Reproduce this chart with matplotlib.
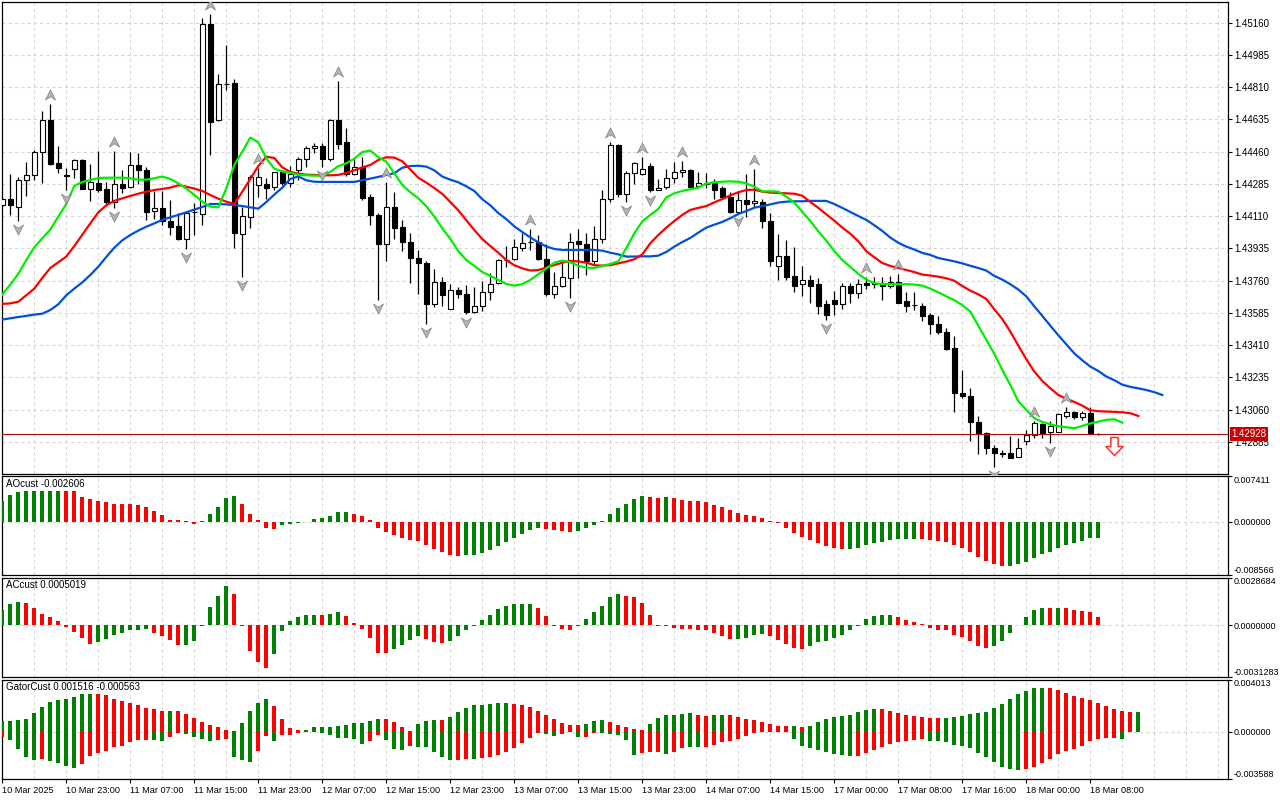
import numpy as np
import matplotlib
matplotlib.use("Agg")
import matplotlib.pyplot as plt
from matplotlib.path import Path
import matplotlib.transforms as mtransforms

plt.rcParams['font.family'] = ['Liberation Sans', 'DejaVu Sans']
FS = 7.0        # price labels, titles
FS_IND = 6.5    # indicator scale labels
FS_TIME = 6.6   # time axis labels

# ---------------- data (hourly bars, 10 Mar 15:00 ... 18 Mar 09:00) ----------------
opens = [1.44173, 1.44205, 1.44162, 1.44305, 1.44332, 1.44457, 1.44630, 1.44397, 1.44332, 1.44368,
         1.44413, 1.44260, 1.44290, 1.44258, 1.44187, 1.44285, 1.44267, 1.44388, 1.44359, 1.44136,
         1.44153, 1.44084, 1.44055, 1.43988, 1.44131, 1.44122, 1.45151, 1.44630, 1.44829, 1.44831,
         1.44012, 1.44108, 1.44278, 1.44285, 1.44267, 1.44349, 1.44288, 1.44359, 1.44419, 1.44478,
         1.44489, 1.44419, 1.44630, 1.44511, 1.44339, 1.44379, 1.44212, 1.44115, 1.43958, 1.44158,
         1.44050, 1.43968, 1.43881, 1.43854, 1.43632, 1.43755, 1.43607, 1.43710, 1.43686, 1.43589,
         1.43623, 1.43697, 1.43746, 1.43874, 1.43876, 1.43939, 1.43968, 1.43968, 1.43876, 1.43688,
         1.43733, 1.43777, 1.43976, 1.43958, 1.43867, 1.43985, 1.44202, 1.44495, 1.44229, 1.44343,
         1.44337, 1.44382, 1.44254, 1.44267, 1.44316, 1.44350, 1.44359, 1.44274, 1.44288, 1.44292,
         1.44261, 1.44212, 1.44131, 1.44196, 1.44180, 1.44185, 1.44084, 1.43841, 1.43892, 1.43785,
         1.43741, 1.43762, 1.43741, 1.43634, 1.43655, 1.43632, 1.43733, 1.43695, 1.43750, 1.43746,
         1.43741, 1.43730, 1.43755, 1.43650, 1.43628, 1.43623, 1.43574, 1.43525, 1.43480, 1.43393,
         1.43149, 1.43137, 1.42991, 1.42936, 1.42851, 1.42824, 1.42827, 1.42805, 1.42892, 1.42923,
         1.42981, 1.42941, 1.42941, 1.43026, 1.43050, 1.43019, 1.43044, 1.42930]
highs = [1.44216, 1.44339, 1.44325, 1.44402, 1.44469, 1.44681, 1.44717, 1.44491, 1.44373, 1.44419,
         1.44419, 1.44393, 1.44464, 1.44297, 1.44464, 1.44361, 1.44457, 1.44453, 1.44377, 1.44249,
         1.44249, 1.44198, 1.44126, 1.44131, 1.44180, 1.45184, 1.45205, 1.44882, 1.45039, 1.44854,
         1.44158, 1.44334, 1.44370, 1.44316, 1.44352, 1.44361, 1.44384, 1.44433, 1.44493, 1.44505,
         1.44505, 1.44636, 1.44844, 1.44589, 1.44433, 1.44433, 1.44231, 1.44126, 1.44294, 1.44240,
         1.44090, 1.44017, 1.43927, 1.43867, 1.43822, 1.43782, 1.43741, 1.43724, 1.43737, 1.43724,
         1.43759, 1.43804, 1.43876, 1.43948, 1.43987, 1.44021, 1.44039, 1.44008, 1.43958, 1.43809,
         1.43854, 1.44021, 1.44039, 1.44021, 1.44059, 1.44252, 1.44515, 1.44500, 1.44355, 1.44404,
         1.44433, 1.44397, 1.44310, 1.44364, 1.44402, 1.44410, 1.44364, 1.44352, 1.44343, 1.44312,
         1.44276, 1.44243, 1.44243, 1.44337, 1.44366, 1.44203, 1.44126, 1.44012, 1.43981, 1.43941,
         1.43841, 1.43789, 1.43773, 1.43655, 1.43704, 1.43746, 1.43746, 1.43768, 1.43782, 1.43779,
         1.43782, 1.43788, 1.43797, 1.43701, 1.43701, 1.43637, 1.43583, 1.43571, 1.43505, 1.43460,
         1.43276, 1.43180, 1.43026, 1.42938, 1.42869, 1.42839, 1.42918, 1.42905, 1.42950, 1.43001,
         1.42987, 1.43001, 1.43044, 1.43073, 1.43055, 1.43055, 1.43073, 1.42933]
lows = [1.44162, 1.44117, 1.44086, 1.44220, 1.44306, 1.44292, 1.44388, 1.44346, 1.44252, 1.44316,
        1.44256, 1.44194, 1.44243, 1.44176, 1.44153, 1.44238, 1.44261, 1.44285, 1.44090, 1.44094,
        1.44062, 1.44008, 1.43981, 1.43930, 1.44006, 1.44062, 1.44444, 1.44628, 1.44795, 1.43939,
        1.43782, 1.44048, 1.44216, 1.44203, 1.44252, 1.44279, 1.44270, 1.44305, 1.44379, 1.44455,
        1.44379, 1.44411, 1.44476, 1.44329, 1.44334, 1.44198, 1.44062, 1.43655, 1.43869, 1.43988,
        1.43923, 1.43750, 1.43686, 1.43525, 1.43619, 1.43625, 1.43605, 1.43668, 1.43578, 1.43587,
        1.43596, 1.43655, 1.43742, 1.43836, 1.43872, 1.43923, 1.43927, 1.43872, 1.43677, 1.43664,
        1.43724, 1.43664, 1.43777, 1.43791, 1.43845, 1.43963, 1.44185, 1.44216, 1.44185, 1.44283,
        1.44334, 1.44243, 1.44252, 1.44256, 1.44292, 1.44325, 1.44265, 1.44267, 1.44261, 1.44202,
        1.44203, 1.44126, 1.44126, 1.44108, 1.44162, 1.44048, 1.43841, 1.43764, 1.43764, 1.43696,
        1.43679, 1.43641, 1.43578, 1.43547, 1.43572, 1.43605, 1.43641, 1.43664, 1.43715, 1.43719,
        1.43655, 1.43719, 1.43637, 1.43592, 1.43601, 1.43543, 1.43470, 1.43470, 1.43384, 1.43050,
        1.43126, 1.42892, 1.42820, 1.42820, 1.42751, 1.42805, 1.42797, 1.42804, 1.42869, 1.42905,
        1.42905, 1.42881, 1.42938, 1.43017, 1.43010, 1.43005, 1.42927, 1.42925]
closes = [1.44205, 1.44169, 1.44305, 1.44332, 1.44457, 1.44630, 1.44393, 1.44373, 1.44330, 1.44413,
          1.44260, 1.44294, 1.44254, 1.44187, 1.44283, 1.44265, 1.44388, 1.44359, 1.44131, 1.44153,
          1.44086, 1.44053, 1.43988, 1.44126, 1.44133, 1.45151, 1.44623, 1.44826, 1.44827, 1.44017,
          1.44113, 1.44323, 1.44323, 1.44265, 1.44349, 1.44288, 1.44337, 1.44419, 1.44478, 1.44489,
          1.44419, 1.44630, 1.44502, 1.44339, 1.44379, 1.44211, 1.44115, 1.43961, 1.44158, 1.44048,
          1.43968, 1.43881, 1.43854, 1.43632, 1.43755, 1.43683, 1.43710, 1.43686, 1.43589, 1.43623,
          1.43697, 1.43744, 1.43871, 1.43872, 1.43941, 1.43963, 1.43970, 1.43876, 1.43688, 1.43733,
          1.43780, 1.43972, 1.43958, 1.43869, 1.43985, 1.44202, 1.44495, 1.44229, 1.44343, 1.44400,
          1.44364, 1.44252, 1.44265, 1.44316, 1.44349, 1.44359, 1.44270, 1.44288, 1.44287, 1.44252,
          1.44216, 1.44131, 1.44196, 1.44174, 1.44193, 1.44082, 1.43869, 1.43892, 1.43782, 1.43733,
          1.43762, 1.43733, 1.43625, 1.43572, 1.43632, 1.43733, 1.43695, 1.43741, 1.43737, 1.43744,
          1.43730, 1.43755, 1.43641, 1.43625, 1.43627, 1.43571, 1.43524, 1.43480, 1.43390, 1.43149,
          1.43135, 1.42991, 1.42932, 1.42851, 1.42824, 1.42822, 1.42800, 1.42851, 1.42923, 1.42986,
          1.42932, 1.42972, 1.43035, 1.43050, 1.43019, 1.43044, 1.42932, 1.42928]

# Alligator (lips green, teeth red, jaw blue) - already shifted forward
lips = [1.43684, 1.43739, 1.43797, 1.43872, 1.43941, 1.43990, 1.44037, 1.44108, 1.44176, 1.44274,
        1.44296, 1.44306, 1.44317, 1.44319, 1.44319, 1.44319, 1.44316, 1.44308, 1.44308, 1.44316,
        1.44325, 1.44312, 1.44288, 1.44260, 1.44225, 1.44189, 1.44162, 1.44158, 1.44261, 1.44388,
        1.44460, 1.44536, 1.44511, 1.44424, 1.44368, 1.44353, 1.44345, 1.44335, 1.44332, 1.44330,
        1.44330, 1.44350, 1.44382, 1.44397, 1.44422, 1.44458, 1.44466, 1.44430, 1.44406, 1.44343,
        1.44279, 1.44240, 1.44207, 1.44164, 1.44108, 1.44044, 1.43987, 1.43921, 1.43872, 1.43840,
        1.43807, 1.43786, 1.43764, 1.43742, 1.43733, 1.43741, 1.43764, 1.43795, 1.43826, 1.43858,
        1.43869, 1.43860, 1.43841, 1.43831, 1.43829, 1.43840, 1.43851, 1.43865, 1.43936, 1.44017,
        1.44082, 1.44117, 1.44149, 1.44212, 1.44234, 1.44247, 1.44256, 1.44265, 1.44287, 1.44294,
        1.44297, 1.44299, 1.44297, 1.44288, 1.44270, 1.44245, 1.44245, 1.44243, 1.44216, 1.44184,
        1.44133, 1.44084, 1.44028, 1.43977, 1.43921, 1.43872, 1.43835, 1.43797, 1.43766, 1.43746,
        1.43742, 1.43742, 1.43741, 1.43741, 1.43739, 1.43733, 1.43717, 1.43697, 1.43675, 1.43654,
        1.43627, 1.43592, 1.43516, 1.43439, 1.43363, 1.43276, 1.43194, 1.43106, 1.43059, 1.43014,
        1.42994, 1.42981, 1.42970, 1.42965, 1.42959, 1.42972, 1.42986, 1.42995, 1.43005, 1.43008,
        1.42990]
teeth = [1.43634, 1.43637, 1.43646, 1.43681, 1.43717, 1.43775, 1.43829, 1.43860, 1.43891, 1.43948,
         1.44010, 1.44071, 1.44131, 1.44169, 1.44193, 1.44207, 1.44220, 1.44232, 1.44243, 1.44252,
         1.44258, 1.44265, 1.44278, 1.44270, 1.44260, 1.44247, 1.44225, 1.44205, 1.44189, 1.44176,
         1.44243, 1.44312, 1.44382, 1.44433, 1.44426, 1.44375, 1.44350, 1.44341, 1.44335, 1.44334,
         1.44332, 1.44332, 1.44334, 1.44345, 1.44359, 1.44375, 1.44388, 1.44415, 1.44430, 1.44428,
         1.44408, 1.44363, 1.44319, 1.44292, 1.44263, 1.44231, 1.44187, 1.44142, 1.44088, 1.44035,
         1.43986, 1.43948, 1.43912, 1.43872, 1.43844, 1.43827, 1.43815, 1.43818, 1.43831, 1.43845,
         1.43858, 1.43867, 1.43865, 1.43858, 1.43844, 1.43842, 1.43845, 1.43854, 1.43864, 1.43876,
         1.43903, 1.43963, 1.44008, 1.44048, 1.44084, 1.44117, 1.44144, 1.44155, 1.44165, 1.44185,
         1.44203, 1.44223, 1.44240, 1.44252, 1.44254, 1.44243, 1.44238, 1.44236, 1.44234, 1.44232,
         1.44221, 1.44187, 1.44155, 1.44120, 1.44086, 1.44048, 1.44015, 1.43974, 1.43920, 1.43887,
         1.43856, 1.43840, 1.43829, 1.43818, 1.43807, 1.43793, 1.43788, 1.43782, 1.43773, 1.43760,
         1.43731, 1.43706, 1.43686, 1.43661, 1.43605, 1.43552, 1.43484, 1.43408, 1.43334, 1.43267,
         1.43216, 1.43176, 1.43140, 1.43119, 1.43102, 1.43082, 1.43057, 1.43052, 1.43050, 1.43048,
         1.43046, 1.43041, 1.43026]
jaw = [1.43549, 1.43556, 1.43563, 1.43569, 1.43576, 1.43581, 1.43601, 1.43632, 1.43681, 1.43717,
       1.43751, 1.43791, 1.43836, 1.43889, 1.43939, 1.43979, 1.44008, 1.44032, 1.44053, 1.44071,
       1.44090, 1.44104, 1.44117, 1.44131, 1.44146, 1.44160, 1.44176, 1.44176, 1.44174, 1.44171,
       1.44165, 1.44158, 1.44151, 1.44187, 1.44227, 1.44265, 1.44312, 1.44326, 1.44305, 1.44297,
       1.44296, 1.44296, 1.44296, 1.44296, 1.44296, 1.44305, 1.44314, 1.44323, 1.44334, 1.44343,
       1.44373, 1.44382, 1.44384, 1.44379, 1.44359, 1.44325, 1.44308, 1.44294, 1.44272, 1.44247,
       1.44202, 1.44169, 1.44127, 1.44094, 1.44055, 1.44024, 1.43995, 1.43968, 1.43946, 1.43932,
       1.43927, 1.43927, 1.43927, 1.43927, 1.43927, 1.43923, 1.43912, 1.43903, 1.43891, 1.43891,
       1.43892, 1.43892, 1.43896, 1.43916, 1.43945, 1.43970, 1.43992, 1.44021, 1.44048, 1.44064,
       1.44079, 1.44099, 1.44122, 1.44138, 1.44156, 1.44165, 1.44174, 1.44184, 1.44189, 1.44191,
       1.44191, 1.44193, 1.44193, 1.44193, 1.44176, 1.44155, 1.44133, 1.44111, 1.44090, 1.44061,
       1.44030, 1.43994, 1.43966, 1.43945, 1.43929, 1.43911, 1.43900, 1.43883, 1.43874, 1.43865,
       1.43854, 1.43841, 1.43829, 1.43815, 1.43786, 1.43766, 1.43741, 1.43712, 1.43675, 1.43621,
       1.43569, 1.43516, 1.43464, 1.43415, 1.43366, 1.43328, 1.43294, 1.43270, 1.43240, 1.43220,
       1.43196, 1.43184, 1.43176, 1.43167, 1.43155, 1.43140]

fractal_up_bars = [6, 14, 26, 32, 42, 48, 66, 76, 80, 85, 94, 108, 112, 129, 133]
fractal_down_bars = [2, 8, 14, 23, 30, 40, 47, 53, 58, 71, 78, 81, 92, 103, 124, 131]
signal_bar = 139
signal_price = 1.42863

ao = [0.003321, 0.004232, 0.004821, 0.00487, 0.00490, 0.00492, 0.00494, 0.00497, 0.00495, 0.00490,
      0.004018, 0.003696, 0.003375, 0.003214, 0.002893, 0.002850, 0.002786, 0.002625, 0.002357, 0.001714,
      0.001125, 0.000321, 0.000180, 0.000040, -0.000429, 0.000107, 0.001286, 0.002411, 0.003857, 0.004178,
      0.002893, 0.001286, 0.000321, -0.001071, -0.001232, -0.000589, -0.000429, -0.000268, -0.000107, 0.000429,
      0.000643, 0.000964, 0.001554, 0.001580, 0.001286, 0.000964, 0.000321, -0.001071, -0.001768, -0.002196,
      -0.002679, -0.003000, -0.003214, -0.003803, -0.004446, -0.004982, -0.005411, -0.005571, -0.005411, -0.005380,
      -0.005089, -0.004661, -0.003964, -0.003375, -0.002679, -0.002036, -0.001393, -0.001071, -0.001232, -0.001393,
      -0.001607, -0.001768, -0.001607, -0.001071, -0.000589, 0.000107, 0.001286, 0.002250, 0.002893, 0.003696,
      0.004178, 0.004018, 0.003857, 0.003880, 0.003850, 0.003536, 0.003375, 0.003350, 0.003214, 0.002732,
      0.002411, 0.001929, 0.001446, 0.001125, 0.000964, 0.000643, 0.000161, -0.000214, -0.001018, -0.001875,
      -0.002518, -0.003000, -0.003482, -0.003964, -0.004286, -0.004446, -0.004420, -0.004286, -0.003803, -0.003482,
      -0.003321, -0.003000, -0.002839, -0.002820, -0.002800, -0.002830, -0.003000, -0.003161, -0.003321, -0.003803,
      -0.004286, -0.004928, -0.005732, -0.006375, -0.006857, -0.007178, -0.007150, -0.006857, -0.006536, -0.005893,
      -0.005250, -0.004928, -0.004286, -0.003803, -0.003482, -0.003161, -0.002679, -0.002606]
ao_colors = ("gggggggg" "rrrrrrrrrrrrrrrrr" "ggggg" "rrrrr" "ggggggggg" "rrrrrrrrrrrrrr"
             "gggggggggg" "rrrr" "ggggggggg" "rrg" "rrrrrrrrrrrrrrrrrrrrrr" "ggggggggg"
             "rrrrrrrrrrr" "gggggggggggg")

ac = [0.000922, 0.001242, 0.001383, 0.001323, 0.001022, 0.000661, 0.000481, 0.000240, -0.000120, -0.000421,
      -0.000782, -0.001142, -0.001022, -0.000822, -0.000601, -0.000461, -0.000301, -0.000290, -0.000220, -0.000461,
      -0.000661, -0.000882, -0.001202, -0.001190, -0.000962, -0.000030, 0.001082, 0.001743, 0.002345, 0.001864,
      -0.000040, -0.001563, -0.002224, -0.002585, -0.001743, -0.000341, 0.000240, 0.000481, 0.000601, 0.000620,
      0.000600, 0.000661, 0.000802, 0.000541, 0.000120, -0.000220, -0.000782, -0.001683, -0.001700, -0.001423,
      -0.001202, -0.000882, -0.000661, -0.000822, -0.001022, -0.001082, -0.000962, -0.000661, -0.000281, -0.000040,
      0.000301, 0.000601, 0.000962, 0.001142, 0.001263, 0.001270, 0.001280, 0.001022, 0.000541, -0.000040,
      -0.000220, -0.000281, -0.000030, 0.000361, 0.000782, 0.001142, 0.001683, 0.001864, 0.001743, 0.001683,
      0.001323, 0.000601, -0.000040, -0.000060, -0.000160, -0.000220, -0.000230, -0.000281, -0.000290, -0.000461,
      -0.000661, -0.000840, -0.000822, -0.000762, -0.000601, -0.000541, -0.000661, -0.000882, -0.001142, -0.001363,
      -0.001423, -0.001263, -0.001022, -0.000962, -0.000762, -0.000601, -0.000281, -0.000040, 0.000361, 0.000541,
      0.000601, 0.000620, 0.000481, 0.000301, 0.000180, 0.000060, -0.000160, -0.000281, -0.000300, -0.000601,
      -0.000721, -0.000962, -0.001263, -0.001363, -0.001263, -0.000962, -0.000481, -0.000020, 0.000481, 0.000902,
      0.001022, 0.001010, 0.001030, 0.001015, 0.000902, 0.000842, 0.000782, 0.0005019]
ac_colors = ("ggg" "rrrrrrrrr" "ggggggg" "rrrr" "gggggg" "rrrrr" "gggggg" "r" "gg" "rrrrrr"
             "gggg" "rrr" "ggggggggggg" "rrrrr" "gggggg" "rrrrrrrrrrrrrr" "gggg" "rrrrr"
             "ggggggggggg" "rrrrrrrrrrrr" "ggggggg" "r" "g" "rrrrr")

gator_up = [0.000826, 0.000830, 0.000903, 0.000954, 0.001464, 0.001897, 0.002280, 0.002433, 0.002509, 0.002662,
            0.002892, 0.002900, 0.002895, 0.002815, 0.002509, 0.002356, 0.002203, 0.002050, 0.001821, 0.001744,
            0.001591, 0.001600, 0.001590, 0.001362, 0.001056, 0.000775, 0.000520, 0.000367, 0.000163, 0.000061,
            0.000673, 0.001591, 0.002203, 0.002509, 0.001974, 0.000979, 0.000291, 0.000163, 0.000180, 0.000367,
            0.000370, 0.000375, 0.000444, 0.000520, 0.000673, 0.000680, 0.000826, 0.000979, 0.000970, 0.000750,
            0.000367, 0.000061, 0.000597, 0.000826, 0.000903, 0.000895, 0.001132, 0.001515, 0.001821, 0.002050,
            0.002060, 0.002127, 0.002203, 0.002210, 0.002127, 0.002050, 0.001897, 0.001591, 0.001285, 0.000979,
            0.000673, 0.000520, 0.000515, 0.000597, 0.000826, 0.000903, 0.000750, 0.000520, 0.000367, 0.000214,
            0.000112, 0.000597, 0.001056, 0.001285, 0.001290, 0.001362, 0.001438, 0.001285, 0.001209, 0.001285,
            0.001290, 0.001280, 0.001132, 0.000979, 0.000903, 0.000750, 0.000597, 0.000444, 0.000440, 0.000450,
            0.000367, 0.000444, 0.000750, 0.000979, 0.001132, 0.001209, 0.001285, 0.001515, 0.001668, 0.001744,
            0.001740, 0.001591, 0.001438, 0.001285, 0.001183, 0.001132, 0.001056, 0.001050, 0.001058, 0.001132,
            0.001209, 0.001362, 0.001438, 0.001515, 0.001821, 0.002127, 0.002509, 0.002892, 0.003121, 0.003351,
            0.003360, 0.003355, 0.003198, 0.002968, 0.002739, 0.002586, 0.002433, 0.002203, 0.001974, 0.001744,
            0.001591, 0.001505, 0.001516]
gator_up_colors = ("gggggggggggg" "rrrrrrrrr" "g" "rrrrrrrr" "gggg" "rrrr" "gggggggggg" "rrrr"
                   "ggg" "r" "gggggggg" "rrrrrrrrr" "ggg" "rrrrr" "gggggg" "rr" "gg" "rrrrrrrr"
                   "g" "r" "ggggggggg" "rrrrrrrr" "ggggggggggggg" "rrrrrrrrrrr" "g")
gator_dn = [-0.000398, -0.000602, -0.001316, -0.001928, -0.002132, -0.002055, -0.002208, -0.002387, -0.002616, -0.002744,
            -0.002463, -0.001851, -0.001622, -0.001469, -0.001163, -0.001086, -0.000755, -0.000602, -0.000595, -0.000610,
            -0.000678, -0.000398, -0.000066, -0.000143, -0.000372, -0.000525, -0.000678, -0.000602, -0.000525, -0.001928,
            -0.002132, -0.002285, -0.001443, -0.000296, -0.000678, -0.000219, -0.000215, -0.000117, -0.000041, -0.000035,
            -0.000066, -0.000219, -0.000449, -0.000455, -0.000525, -0.000908, -0.000678, -0.000219, -0.000602, -0.001290,
            -0.001367, -0.001061, -0.001137, -0.001145, -0.001520, -0.001902, -0.002132, -0.002125, -0.002055, -0.002062,
            -0.001979, -0.001902, -0.001749, -0.001520, -0.001214, -0.000831, -0.000449, -0.000092, -0.000143, -0.000296,
            -0.000143, -0.000041, -0.000372, -0.000365, -0.000066, -0.000070, -0.000143, -0.000219, -0.000602, -0.001749,
            -0.001596, -0.001520, -0.001515, -0.001673, -0.001520, -0.001214, -0.001137, -0.001140, -0.001135, -0.000984,
            -0.000755, -0.000678, -0.000525, -0.000296, -0.000066, -0.000041, -0.000035, -0.000045, -0.000030, -0.000525,
            -0.001061, -0.001214, -0.001367, -0.001520, -0.001673, -0.001749, -0.001826, -0.001820, -0.001596, -0.001367,
            -0.001137, -0.000908, -0.000755, -0.000678, -0.000602, -0.000525, -0.000678, -0.000685, -0.000755, -0.000984,
            -0.001061, -0.001214, -0.001596, -0.001902, -0.002285, -0.002667, -0.002820, -0.002897, -0.002820, -0.002667,
            -0.002361, -0.002055, -0.001673, -0.001443, -0.001290, -0.001061, -0.000678, -0.000525, -0.000449, -0.000450,
            -0.000563]
gator_dn_colors = ("r" "gggg" "r" "gggg" "rrrrrrrrr" "gg" "rr" "gggg" "rr" "ggg" "rr" "g" "rrrrr"
                   "gggggg" "rr" "ggg" "r" "ggggg" "rr" "g" "rrrrrrrr" "gg" "rr" "g" "rr" "ggggg"
                   "rrr" "g" "rr" "gg" "rrrrrrrrr" "g" "r" "gggggggg" "rrrrrrrrr" "gggggggggggg"
                   "rrrrrrrrrrrr" "g")

price_ticks = [1.45160, 1.44985, 1.44810, 1.44635, 1.44460, 1.44285, 1.44110,
               1.43935, 1.43760, 1.43585, 1.43410, 1.43235, 1.43060, 1.42885]
time_labels = ["10 Mar 2025", "10 Mar 23:00", "11 Mar 07:00", "11 Mar 15:00", "11 Mar 23:00",
               "12 Mar 07:00", "12 Mar 15:00", "12 Mar 23:00", "13 Mar 07:00", "13 Mar 15:00",
               "13 Mar 23:00", "14 Mar 07:00", "14 Mar 15:00", "17 Mar 00:00", "17 Mar 08:00",
               "17 Mar 16:00", "18 Mar 00:00", "18 Mar 08:00"]
bars_per_label = 8
ao_range = (-0.008566, 0.007411)
ac_range = (-0.0031283, 0.0028684)
gator_range = (-0.003588, 0.004013)

# ---------------- styling / layout ----------------
GREEN = '#008000'
RED = '#ff0000'
GRID = dict(color='#d4d4d4', linestyle=(0, (3, 3)), linewidth=0.75)
W, H = 1280, 800
fig = plt.figure(figsize=(W / 100, H / 100), dpi=100)
fig.patch.set_facecolor('white')

PX_PER_BAR = 8.0
LEFT_PX, RIGHT_PX = 2.0, 1228.0
XMIN = -0.0375
XMAX = XMIN + (RIGHT_PX - LEFT_PX) / PX_PER_BAR


def panel(top, bottom):
    return fig.add_axes([LEFT_PX / W, 1 - bottom / H, (RIGHT_PX - LEFT_PX) / W, (bottom - top) / H])


ax_main = panel(2.0, 473.5)
ax_ao = panel(475.5, 574.7)
ax_ac = panel(577.5, 677.0)
ax_gt = panel(679.5, 778.7)
axes = [ax_main, ax_ao, ax_ac, ax_gt]

for ax in axes:
    ax.set_xlim(XMIN, XMAX)
    ax.xaxis.remove_overlapping_locs = False
    ax.set_xticks(np.arange(4, XMAX, 4), minor=True)
    ax.grid(which='minor', axis='x', **GRID)
    ax.set_axisbelow(True)
    ax.yaxis.tick_right()
    ax.tick_params(which='minor', length=0)
    ax.tick_params(axis='y', which='major', direction='out', length=3, width=0.8,
                   pad=1.2, labelsize=FS_IND, right=True, left=False)
    for s in ax.spines.values():
        s.set_linewidth(0.9)
        s.set_color('black')
    if ax is not ax_gt:
        ax.set_xticks([])

# ---------------- main price panel ----------------
o = np.array(opens); h = np.array(highs); l = np.array(lows); c = np.array(closes)
kk = np.arange(len(c))
ax_main.set_ylim(1.427138, 1.452723)
ax_main.set_yticks(price_ticks)
ax_main.set_yticklabels([f"{v:.5f}" for v in price_ticks])
ax_main.tick_params(axis='y', labelsize=FS, pad=1.5)
ax_main.grid(which='major', axis='y', **GRID)

ax_main.vlines(kk, l, h, color='black', linewidth=0.9, zorder=2)
bull = c >= o
ax_main.bar(kk, np.abs(c - o), bottom=np.minimum(o, c), width=0.58,
            color=np.where(bull, 'white', 'black'), edgecolor='black', linewidth=0.8, zorder=3)

ax_main.plot(np.arange(len(jaw)), jaw, color='#0050dc', linewidth=1.6, zorder=4)
ax_main.plot(np.arange(len(teeth)), teeth, color='#ff0000', linewidth=1.6, zorder=5)
ax_main.plot(np.arange(len(lips)), lips, color='#00ee00', linewidth=1.6, zorder=6)

up_path = Path([(0, 0.55), (0.5, -0.45), (0, -0.12), (-0.5, -0.45), (0, 0.55)],
               [Path.MOVETO, Path.LINETO, Path.LINETO, Path.LINETO, Path.CLOSEPOLY])
dn_path = Path([(0, -0.55), (0.5, 0.45), (0, 0.12), (-0.5, 0.45), (0, -0.55)],
               [Path.MOVETO, Path.LINETO, Path.LINETO, Path.LINETO, Path.CLOSEPOLY])
t_up = mtransforms.offset_copy(ax_main.transData, fig=fig, x=0, y=9, units='dots')
t_dn = mtransforms.offset_copy(ax_main.transData, fig=fig, x=0, y=-8, units='dots')
ax_main.plot(fractal_up_bars, h[fractal_up_bars], linestyle='none', marker=up_path, markersize=8,
             markerfacecolor='#b4b4b4', markeredgecolor='#8a8a8a', markeredgewidth=0.6,
             transform=t_up, zorder=7)
ax_main.plot(fractal_down_bars, l[fractal_down_bars], linestyle='none', marker=dn_path, markersize=8,
             markerfacecolor='#b4b4b4', markeredgecolor='#8a8a8a', markeredgewidth=0.6,
             transform=t_dn, zorder=7)

arrow_path = Path([(-0.2, 0.5), (0.2, 0.5), (0.2, 0.0), (0.48, 0.0), (0, -0.5), (-0.48, 0.0), (-0.2, 0.0), (-0.2, 0.5)],
                  [Path.MOVETO] + [Path.LINETO] * 6 + [Path.CLOSEPOLY])
ax_main.plot([signal_bar], [signal_price], linestyle='none', marker=arrow_path, markersize=13,
             markerfacecolor='white', markeredgecolor='#ff3030', markeredgewidth=1.1, zorder=8)

last = closes[-1]
ax_main.axhline(last, color='#b01010', linewidth=0.8, zorder=4)
ax_main.annotate(f"{last:.5f}", xy=(1, last), xycoords=('axes fraction', 'data'),
                 xytext=(3.5, 0), textcoords='offset pixels', ha='left', va='center',
                 color='white', fontsize=FS, annotation_clip=False, zorder=20,
                 bbox=dict(boxstyle='square,pad=0.18', fc='#c80000', ec='none'))


# ---------------- indicator panels ----------------
def indicator(ax, series_list, yr, ticks_fmt):
    ax.set_ylim(*yr)
    ax.axhline(0, zorder=1, **GRID)
    for vals, cols in series_list:
        ax.bar(np.arange(len(vals)), vals, width=0.5,
               color=[GREEN if ch == 'g' else RED for ch in cols], linewidth=0, zorder=3)
    ticks = [yr[0], 0.0, yr[1]]
    ax.set_yticks(ticks)
    labs = ax.set_yticklabels([ticks_fmt.format(t) for t in ticks])
    labs[0].set_verticalalignment('bottom')
    labs[2].set_verticalalignment('top')


indicator(ax_ao, [(ao, ao_colors)], ao_range, "{:.6f}")
indicator(ax_ac, [(ac, ac_colors)], ac_range, "{:.7f}")
indicator(ax_gt, [(gator_up, gator_up_colors), (gator_dn, gator_dn_colors)], gator_range, "{:.6f}")


def title(ax, text):
    ax.annotate(text, xy=(0, 1), xycoords='axes fraction', xytext=(4, -3), textcoords='offset pixels',
                ha='left', va='top', fontsize=FS, color='black', zorder=20)


title(ax_ao, f"AOcust {ao[-1]:.6f}")
title(ax_ac, f"ACcust {ac[-1]:.7f}")
title(ax_gt, f"GatorCust {gator_up[-1]:.6f} {gator_dn[-1]:.6f}")

ax_gt.set_xticks(np.arange(len(time_labels)) * bars_per_label)
ax_gt.set_xticklabels(time_labels, ha='left')
ax_gt.tick_params(axis='x', which='major', direction='out', length=3, width=0.8, pad=2, labelsize=FS_TIME)

fig.savefig("out.png", dpi=100, facecolor='white')
